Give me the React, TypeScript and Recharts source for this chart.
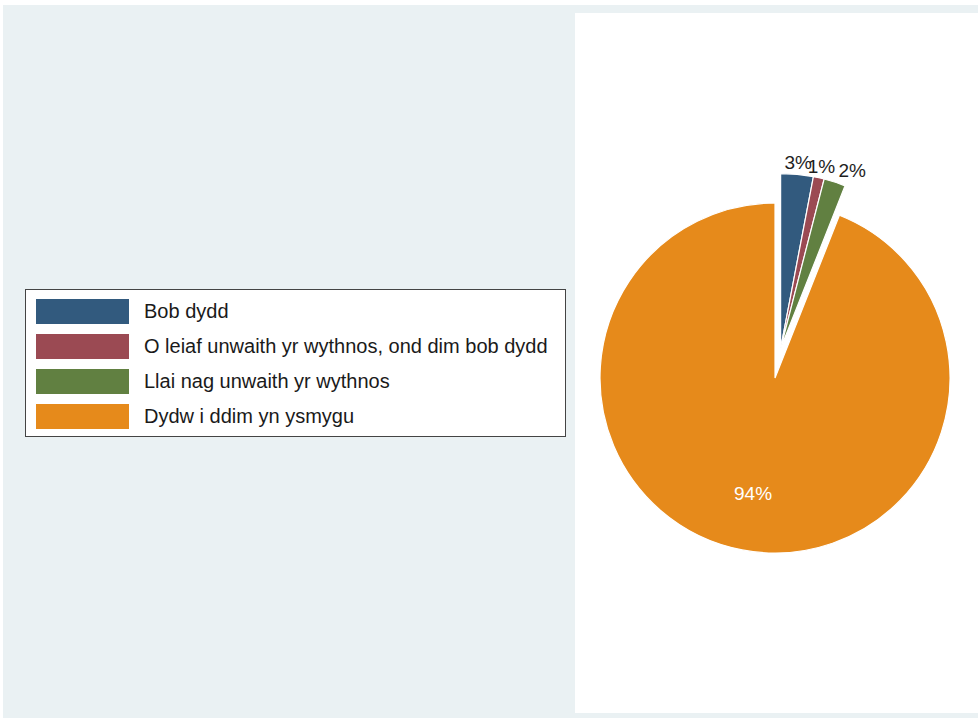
import React from 'react';
import { PieChart, Pie, Cell, Legend } from 'recharts';

const categories = [
  'Bob dydd',
  'O leiaf unwaith yr wythnos, ond dim bob dydd',
  'Llai nag unwaith yr wythnos',
  'Dydw i ddim yn ysmygu',
];
const values = [3, 1, 2, 94];
const labels = ['3%', '1%', '2%', '94%'];
const colors = ['#325a7e', '#9b4a53', '#618041', '#e68a1b'];
const exploded = [true, true, true, false];

const RADIAN = Math.PI / 180;
const CX = 775;
const CY = 378;
const R = 175;
const EXPLODE = 30;
const FONT = '"Liberation Sans", Arial, sans-serif';

const total = values.reduce((a, b) => a + b, 0);
const data = categories.map((name, i) => ({ name, value: values[i] }));

// the exploded slices move out together along the middle of their combined span
const explodedSum = values.filter((_, i) => exploded[i]).reduce((a, b) => a + b, 0);
const groupMid = 90 - (360 * (explodedSum / 2)) / total;

const renderLabel = (slice: number) => (props: any) => {
  const { cx, cy, midAngle, outerRadius, index } = props;
  if (index !== slice) return null;
  const inside = !exploded[index];
  const r = inside ? outerRadius * 0.67 : outerRadius + 12;
  const x = cx + r * Math.cos(-midAngle * RADIAN);
  const y = cy + r * Math.sin(-midAngle * RADIAN);
  const anchor = !inside && midAngle < 75 ? 'start' : 'middle';
  return (
    <text
      x={x}
      y={y}
      textAnchor={anchor}
      dominantBaseline="central"
      fill={inside ? '#ffffff' : '#1e1e1e'}
      fontSize={19}
      fontFamily={FONT}
    >
      {labels[index]}
    </text>
  );
};

const LegendBox = () => (
  <div
    style={{
      boxSizing: 'border-box',
      width: 541,
      height: 148,
      border: '1.5px solid #444',
      background: '#ffffff',
      paddingTop: 4,
      fontFamily: FONT,
    }}
  >
    {categories.map((c, i) => (
      <div key={c} style={{ display: 'flex', alignItems: 'center', height: 35 }}>
        <div style={{ marginLeft: 10, width: 93, height: 25, background: colors[i] }} />
        <span style={{ marginLeft: 15, fontSize: 20, color: '#1a1a1a' }}>{c}</span>
      </div>
    ))}
  </div>
);

export default function App() {
  return (
    <div style={{ position: 'absolute', left: 0, top: 0, width: 978, height: 720, background: '#ffffff' }}>
      <div style={{ position: 'absolute', left: 3, top: 5, width: 975, height: 713, background: '#eaf1f3' }} />
      <div style={{ position: 'absolute', left: 575, top: 13, width: 403, height: 700, background: '#ffffff' }} />
      <div style={{ position: 'absolute', left: 0, top: 0 }}>
        <PieChart width={978} height={720} margin={{ top: 0, right: 0, bottom: 0, left: 0 }}>
          {values.map((_, j) => {
            const d = exploded[j] ? EXPLODE : 0;
            const ox = CX + d * Math.cos(groupMid * RADIAN);
            const oy = CY - d * Math.sin(groupMid * RADIAN);
            return (
              <Pie
                key={j}
                data={data}
                dataKey="value"
                nameKey="name"
                cx={ox}
                cy={oy}
                outerRadius={R}
                startAngle={90}
                endAngle={-270}
                labelLine={false}
                label={renderLabel(j)}
                isAnimationActive={false}
                legendType="none"
              >
                {data.map((entry, i) => (
                  <Cell
                    key={entry.name}
                    fill={i === j ? colors[i] : 'none'}
                    stroke={i === j ? '#ffffff' : 'none'}
                    strokeWidth={1.2}
                  />
                ))}
              </Pie>
            );
          })}
          <Legend
            content={<LegendBox />}
            wrapperStyle={{ position: 'absolute', left: 25, top: 289, width: 541, height: 148 }}
          />
        </PieChart>
      </div>
    </div>
  );
}
